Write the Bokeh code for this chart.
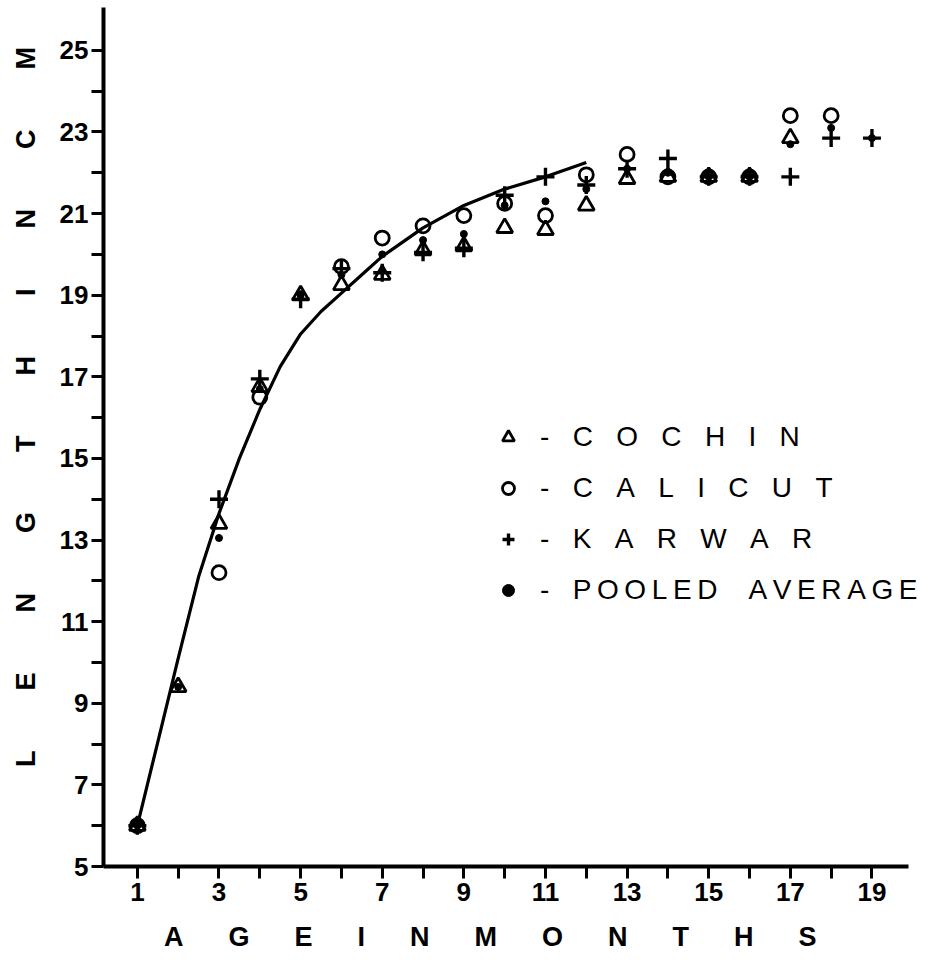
from bokeh.plotting import figure
from bokeh.models import FixedTicker, Legend, LegendItem, Range1d
from bokeh.embed import file_html
from bokeh.resources import INLINE

# ---- data ----
cochin_month = [1, 2, 3, 4, 5, 6, 7, 8, 9, 10, 11, 12, 13, 14, 15, 16, 17]
cochin_len = [6.0, 9.4, 13.4, 16.75, 19.0, 19.25, 19.5, 20.1, 20.2, 20.65, 20.6, 21.2, 21.85, 21.9, 21.9, 21.9, 22.85]

calicut_month = [1, 3, 4, 6, 7, 8, 9, 10, 11, 12, 13, 14, 15, 16, 17, 18]
calicut_len = [6.0, 12.2, 16.5, 19.7, 20.4, 20.7, 20.95, 21.25, 20.95, 21.95, 22.45, 21.9, 21.9, 21.9, 23.4, 23.4]

karwar_month = [1, 3, 4, 5, 6, 7, 8, 9, 10, 11, 12, 13, 14, 15, 16, 17, 18, 19]
karwar_len = [6.0, 14.0, 16.95, 18.9, 19.65, 19.55, 20.05, 20.15, 21.45, 21.9, 21.7, 22.1, 22.35, 21.9, 21.9, 21.9, 22.85, 22.85]

pooled_month = [1, 2, 3, 4, 5, 6, 7, 8, 9, 10, 11, 12, 13, 14, 15, 16, 17, 18, 19]
pooled_len = [6.0, 9.4, 13.05, 16.7, 19.0, 19.5, 20.0, 20.35, 20.5, 21.2, 21.3, 21.6, 22.1, 22.0, 21.9, 21.9, 22.7, 23.1, 22.85]

curve_month = [1, 1.5, 2, 2.5, 3, 3.5, 4, 4.5, 5, 5.5, 6, 6.5, 7, 8, 9, 10, 11, 12]
curve_len = [6.0, 8.05, 10.1, 12.1, 13.65, 15.0, 16.2, 17.25, 18.05, 18.6, 19.05, 19.5, 19.95, 20.65, 21.2, 21.6, 21.9, 22.25]

x_ticks = [1, 3, 5, 7, 9, 11, 13, 15, 17, 19]
x_minor = [2, 4, 6, 8, 10, 12, 14, 16, 18]
y_ticks = [5, 7, 9, 11, 13, 15, 17, 19, 21, 23, 25]
y_minor = [6, 8, 10, 12, 14, 16, 18, 20, 22, 24]

NB = "\u00a0"
FONT = "Liberation Sans"

p = figure(width=929, height=966, output_backend="svg", toolbar_location=None,
           x_range=Range1d(0.17, 20.41), y_range=Range1d(5, 26.05),
           min_border_left=103, min_border_right=0, min_border_top=7,
           min_border_bottom=100)

p.grid.visible = False
p.outline_line_color = None
p.background_fill_color = "white"
p.border_fill_color = "white"

# fitted growth curve
p.line(curve_month, curve_len, line_color="black", line_width=3.2)

r_coch = p.scatter(cochin_month, cochin_len, marker="triangle", size=16,
                   fill_color=None, line_color="black", line_width=2.8)
r_cal = p.scatter(calicut_month, calicut_len, marker="circle", size=14,
                  fill_color=None, line_color="black", line_width=2.8)
r_kar = p.scatter(karwar_month, karwar_len, marker="cross", size=18,
                  line_color="black", line_width=3.4)
r_pool = p.scatter(pooled_month, pooled_len, marker="circle", size=7,
                   fill_color="black", line_color="black")

# axes
for ax in (p.xaxis[0], p.yaxis[0]):
    ax.axis_line_width = 4
    ax.axis_line_color = "black"
    ax.major_tick_line_width = 3
    ax.minor_tick_line_width = 3
    ax.major_tick_in = 0
    ax.minor_tick_in = 0
    ax.major_tick_out = 12
    ax.minor_tick_out = 12
    ax.major_label_text_font = FONT
    ax.major_label_text_font_style = "bold"
    ax.major_label_text_font_size = "26px"
    ax.major_label_text_color = "black"
    ax.axis_label_text_font = FONT
    ax.axis_label_text_font_style = "bold"
    ax.axis_label_text_font_size = "27px"
    ax.axis_label_text_color = "black"

p.xaxis.bounds = (0.17, 19.9)
p.xaxis.ticker = FixedTicker(ticks=x_ticks, minor_ticks=x_minor)
p.yaxis.ticker = FixedTicker(ticks=y_ticks, minor_ticks=y_minor)
p.yaxis.major_label_standoff = 3
p.xaxis.major_label_standoff = 4
p.yaxis.axis_label_standoff = 16
p.xaxis.axis_label_standoff = 18

p.xaxis.axis_label = ((NB * 6).join(list("AGE")) + NB * 6 + (NB * 6).join(list("IN")) + NB * 6
                      + (NB * 6).join(list("MONTHS")) + NB * 7)
p.yaxis.axis_label = (NB * 8 + (NB * 8).join(list("LENGTH")) + NB * 8 + (NB * 8).join(list("IN"))
                      + NB * 8 + (NB * 8).join(list("CM")))

# legend
G = NB * 3
legend = Legend(items=[
    LegendItem(label="-" + G + G.join(list("COCHIN")), renderers=[r_coch]),
    LegendItem(label="-" + G + G.join(list("CALICUT")), renderers=[r_cal]),
    LegendItem(label="-" + G + G.join(list("KARWAR")), renderers=[r_kar]),
    LegendItem(label="-" + G + "\u2009".join(list("POOLED")) + NB * 4 + "\u2009".join(list("AVERAGE")), renderers=[r_pool]),
], location=(390, 260))
legend.background_fill_alpha = 0
legend.border_line_alpha = 0
legend.padding = 0
legend.margin = 0
legend.glyph_width = 30
legend.glyph_height = 30
legend.label_standoff = 17
legend.spacing = 19
legend.label_text_font = FONT
legend.label_text_font_size = "28px"
legend.label_text_color = "black"
legend.label_text_baseline = "middle"
p.add_layout(legend)

open("out.html", "w").write(file_html(p, INLINE))
